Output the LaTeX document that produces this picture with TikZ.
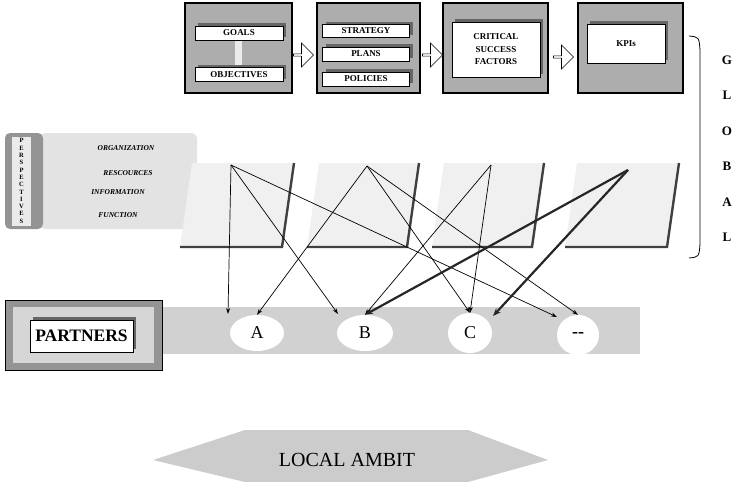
\documentclass[tikz,border=0pt]{standalone}
\usepackage{fontspec}
\setmainfont{Liberation Serif}
\usetikzlibrary{arrows.meta,shapes.geometric,shapes.arrows,shadows}

\tikzset{
  frame/.style={draw=black,line width=1.2pt,fill=black!32,inner sep=0pt,
    minimum width=105pt,minimum height=90pt},
  slab/.style={draw=black,line width=0.6pt,fill=white,inner sep=0pt,
    font=\fontsize{9}{12.5}\selectfont\bfseries,align=center,
    drop shadow={shadow xshift=3pt,shadow yshift=3pt,fill=black!60,opacity=1}},
  blockarrow/.style={single arrow,draw=black,fill=white,line width=0.6pt,inner sep=0pt,
    minimum height=20pt,minimum width=24pt,single arrow head extend=3pt},
  aspect/.style={font=\fontsize{7.5}{8}\selectfont\bfseries\itshape},
  edge/.style={draw=black!75,line width=2.4pt,line join=miter},
  link/.style={draw=black,line width=0.7pt,-{Stealth[length=6pt,width=4pt]}},
  heavy/.style={draw=black!85,line width=2.2pt,-{Stealth[length=8pt,width=6pt]}},
  spot/.style={ellipse,fill=white,inner sep=0pt,minimum height=36pt,
    font=\fontsize{18}{18}\selectfont},
  letter/.style={font=\fontsize{13}{13}\selectfont\bfseries}
}

\begin{document}
\begin{tikzpicture}[x=1pt,y=-1pt]
  \useasboundingbox (0,0) rectangle (737,482);

  % strategic chain
  \node[frame,minimum width=107pt] (box1) at (238.5,48) {};
  \node[fill=black!8,minimum width=7pt,minimum height=27pt,inner sep=0pt] (tie) at (238,53.5) {};
  \node[slab,minimum width=88pt,minimum height=14pt] (goals) at (239,33) {GOALS};
  \node[slab,minimum width=88pt,minimum height=14pt] (objectives) at (239,74.5) {OBJECTIVES};

  \node[frame,minimum width=103pt] (box2) at (368.5,48) {};
  \node[slab,minimum width=87pt,minimum height=13pt] (strategy) at (366,31) {STRATEGY};
  \node[slab,minimum width=87pt,minimum height=14pt] (plans) at (366,54) {PLANS};
  \node[slab,minimum width=87pt,minimum height=14pt] (policies) at (366,79) {POLICIES};

  \node[frame] (box3) at (495.5,48) {};
  \node[slab,minimum width=88pt,minimum height=55pt] (csf) at (496,49.5) {CRITICAL\\SUCCESS\\FACTORS};

  \node[frame] (box4) at (630.5,48) {};
  \node[slab,minimum width=78pt,minimum height=39pt] (kpi) at (626,43.5) {KPIs};

  \node[blockarrow] (ar1) at (303,55) {};
  \node[blockarrow] (ar2) at (432,55) {};
  \node[blockarrow] (ar3) at (563,57) {};

  % global bracket
  \draw[line width=0.8pt] (689,36) .. controls (699,37) .. (700,50) -- (700,244)
    .. controls (699,257) .. (689,258);
  \foreach \l [count=\i] in {G,L,O,B,A,L}
    \node[letter] (gl\i) at (727,{24.5+35.5*\i}) {\l};

  % perspectives
  \fill[black!11,rounded corners=6pt] (40,133) rectangle (197,229);
  \fill[black!42,rounded corners=5pt] (5,133) rectangle (43,229);
  \fill[black!8] (12,137) rectangle (31,226);
  \node[font=\fontsize{6.5}{7.3}\selectfont\bfseries,align=center,inner sep=0pt]
    (persp) at (21.5,181) {P\\E\\R\\S\\P\\E\\C\\T\\I\\V\\E\\S};
  \node[aspect] (org) at (126,148) {ORGANIZATION};
  \node[aspect] (res) at (128,173) {RESCOURCES};
  \node[aspect] (inf) at (118,192) {INFORMATION};
  \node[aspect] (fun) at (118,215) {FUNCTION};

  % panels
  \foreach \l/\r in {180/282,307/407,432/532,565/667}{
    \fill[black!6] ({\l+12},163) -- ({\r+12},163) -- (\r,247) -- (\l,247) -- cycle;
    \draw[edge] (\l,247) -- (\r,247) -- ({\r+12},163);
  }

  % partners
  \fill[black!18] (163,307) rectangle (640,354);
  \node[spot,minimum width=54pt] (A) at (257,333) {A};
  \node[spot,minimum width=56pt] (B) at (365,333) {B};
  \node[spot,minimum width=44pt,minimum height=40pt] (C) at (470,333) {C};
  \node[spot,minimum width=42pt,minimum height=40pt,font=\fontsize{18}{18}\selectfont\bfseries] (dd) at (578,335) {-{}-};

  \node[draw=black,line width=1pt,fill=black!42,minimum width=157pt,minimum height=70pt] (pframe) at (83.5,335) {};
  \node[fill=black!16,minimum width=141pt,minimum height=56pt] (pinner) at (83.5,335) {};
  \node[slab,minimum width=103pt,minimum height=32pt,font=\fontsize{17.5}{18}\selectfont\bfseries] (partners) at (81.5,336) {PARTNERS};

  % links
  \coordinate (s1) at (231,165);
  \coordinate (s2) at (367,166);
  \coordinate (s3) at (491,165);
  \coordinate (s4) at (628,170);
  \coordinate (a1) at (228,314);
  \coordinate (b1) at (338,314);
  \coordinate (c2) at (493,316);
  \coordinate (d1) at (557,317);
  \draw[link] (s1) -- (a1);
  \draw[link] (s1) -- (b1);
  \draw[link] (s1) -- (d1);
  \draw[link] (s2) -- (A.north);
  \draw[link] (s2) -- (C.north);
  \draw[link] (s2) -- (dd.north);
  \draw[link] (s3) -- (B.north);
  \draw[link] (s3) -- (C.north);
  \draw[heavy] (s4) -- (B.north);
  \draw[heavy] (s4) -- (c2);

  % local ambit
  \fill[black!20] (153,460) -- (245,430) -- (468,430) -- (548,460) -- (468,482) -- (245,482) -- cycle;
  \node[font=\fontsize{20}{20}\selectfont] (ambit) at (347,460) {LOCAL AMBIT};
\end{tikzpicture}
\end{document}
